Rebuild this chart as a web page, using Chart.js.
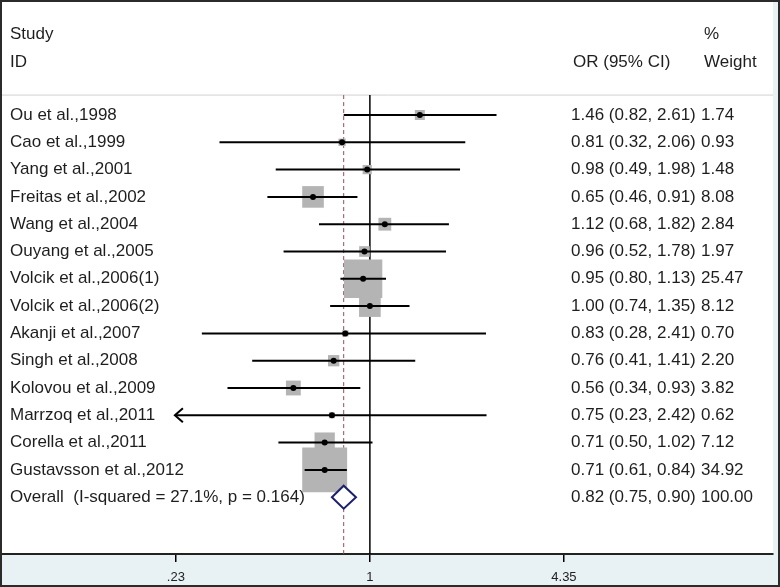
<!DOCTYPE html>
<html>
<head>
<meta charset="utf-8">
<script src="https://cdn.jsdelivr.net/npm/chart.js@4.4.0/dist/chart.umd.min.js"></script>
<style>
  html, body { margin: 0; padding: 0; background: #fff; }
  #wrap { width: 780px; height: 587px; }
</style>
</head>
<body>
<div id="wrap"><canvas id="forest" width="780" height="587"></canvas></div>
<script>
// study rows, top to bottom
const studies = [
  'Ou et al.,1998', 'Cao et al.,1999', 'Yang et al.,2001', 'Freitas et al.,2002',
  'Wang et al.,2004', 'Ouyang et al.,2005', 'Volcik et al.,2006(1)', 'Volcik et al.,2006(2)',
  'Akanji et al.,2007', 'Singh et al.,2008', 'Kolovou et al.,2009', 'Marrzoq et al.,2011',
  'Corella et al.,2011', 'Gustavsson et al.,2012'
];
const oddsRatios = [1.46, 0.81, 0.98, 0.65, 1.12, 0.96, 0.95, 1.00, 0.83, 0.76, 0.56, 0.75, 0.71, 0.71];
const ciLower = [0.82, 0.32, 0.49, 0.46, 0.68, 0.52, 0.80, 0.74, 0.28, 0.41, 0.34, 0.23, 0.50, 0.61];
const ciUpper = [2.61, 2.06, 1.98, 0.91, 1.82, 1.78, 1.13, 1.35, 2.41, 1.41, 0.93, 2.42, 1.02, 0.84];
const weights = [1.74, 0.93, 1.48, 8.08, 2.84, 1.97, 25.47, 8.12, 0.70, 2.20, 3.82, 0.62, 7.12, 34.92];

const overallLabel = 'Overall  (I-squared = 27.1%, p = 0.164)';
const overallOR = 0.82;
const overallLower = 0.75;
const overallUpper = 0.90;
const overallWeight = 100.00;

const xTickValues = [0.23, 1, 4.35];
const xTickLabels = ['.23', '1', '4.35'];

const TEXT_FONT = '17px "Liberation Sans", Arial, sans-serif';
const TEXT_COLOR = '#1e1e1e';
const overallRow = studies.length;
const headerRule = -0.73;

const fmt = v => v.toFixed(2);

const ciDatasets = studies.map((s, i) => ({
  label: s,
  type: 'scatter',
  showLine: true,
  data: [{ x: ciLower[i], y: i }, { x: ciUpper[i], y: i }],
  borderColor: '#000',
  borderWidth: 2,
  pointRadius: 0,
  order: 1
}));

const forestDecor = {
  id: 'forestDecor',
  beforeDraw(chart) {
    const { ctx, chartArea: a } = chart;
    ctx.save();
    ctx.fillStyle = '#e8f1f4';
    ctx.fillRect(0, 0, chart.width, chart.height);
    ctx.fillStyle = '#fff';
    ctx.fillRect(a.left, 2, a.right - a.left, a.bottom - 2);
    ctx.restore();
  },
  beforeDatasetsDraw(chart) {
    const { ctx, chartArea: a, scales: { x, y } } = chart;
    const top = y.getPixelForValue(headerRule);
    ctx.save();
    ctx.strokeStyle = '#d2d2d2';
    ctx.lineWidth = 1;
    ctx.beginPath();
    ctx.moveTo(a.left, top);
    ctx.lineTo(a.right, top);
    ctx.stroke();

    // line of no effect
    const x1 = x.getPixelForValue(1);
    ctx.strokeStyle = '#000';
    ctx.lineWidth = 1.5;
    ctx.beginPath();
    ctx.moveTo(x1, top);
    ctx.lineTo(x1, a.bottom);
    ctx.stroke();

    // pooled estimate
    const xo = x.getPixelForValue(overallOR);
    ctx.strokeStyle = '#9a4a58';
    ctx.lineWidth = 1;
    ctx.setLineDash([4, 3]);
    ctx.beginPath();
    ctx.moveTo(xo, top);
    ctx.lineTo(xo, a.bottom);
    ctx.stroke();
    ctx.restore();
  },
  afterDatasetsDraw(chart) {
    const { ctx, scales: { x, y } } = chart;
    ctx.save();

    // arrows where the CI runs past the axis range
    ctx.strokeStyle = '#000';
    ctx.lineWidth = 2;
    studies.forEach((s, i) => {
      if (ciLower[i] <= xTickValues[0]) {
        const px = x.getPixelForValue(ciLower[i]) - 1;
        const py = y.getPixelForValue(i);
        ctx.beginPath();
        ctx.moveTo(px + 8, py - 7);
        ctx.lineTo(px, py);
        ctx.lineTo(px + 8, py + 7);
        ctx.stroke();
      }
    });

    // overall diamond
    const yo = y.getPixelForValue(overallRow);
    const h = y.getPixelForValue(overallRow + 0.42) - yo;
    ctx.beginPath();
    ctx.moveTo(x.getPixelForValue(overallLower), yo);
    ctx.lineTo(x.getPixelForValue(overallOR), yo - h);
    ctx.lineTo(x.getPixelForValue(overallUpper), yo);
    ctx.lineTo(x.getPixelForValue(overallOR), yo + h);
    ctx.closePath();
    ctx.fillStyle = '#fff';
    ctx.fill();
    ctx.strokeStyle = '#1c1f6e';
    ctx.lineWidth = 2;
    ctx.stroke();

    // text columns
    ctx.font = TEXT_FONT;
    ctx.fillStyle = TEXT_COLOR;
    ctx.textBaseline = 'middle';
    ctx.textAlign = 'left';
    ctx.fillText('Study', 10, 34);
    ctx.fillText('ID', 10, 62);
    ctx.fillText('OR (95% CI)', 573, 62);
    ctx.fillText('%', 704, 34);
    ctx.fillText('Weight', 704, 62);

    studies.forEach((s, i) => {
      const py = y.getPixelForValue(i);
      ctx.fillText(s, 10, py);
      ctx.fillText(`${fmt(oddsRatios[i])} (${fmt(ciLower[i])}, ${fmt(ciUpper[i])})`, 571, py);
      ctx.fillText(fmt(weights[i]), 701, py);
    });
    ctx.fillText(overallLabel, 10, yo);
    ctx.fillText(`${fmt(overallOR)} (${fmt(overallLower)}, ${fmt(overallUpper)})`, 571, yo);
    ctx.fillText(fmt(overallWeight), 701, yo);
    ctx.restore();
  },
  afterDraw(chart) {
    const { ctx } = chart;
    ctx.save();
    ctx.strokeStyle = '#2b2b2b';
    ctx.lineWidth = 2;
    ctx.strokeRect(1, 1, chart.width - 2, chart.height - 2);
    ctx.restore();
  }
};

new Chart(document.getElementById('forest'), {
  type: 'scatter',
  data: {
    datasets: [
      {
        label: 'estimate',
        data: oddsRatios.map((v, i) => ({ x: v, y: i })),
        backgroundColor: '#000',
        borderWidth: 0,
        pointRadius: 3,
        order: 0
      },
      ...ciDatasets,
      {
        label: 'weight',
        data: oddsRatios.map((v, i) => ({ x: v, y: i })),
        pointStyle: 'rect',
        pointRadius: weights.map(w => 7.6 * Math.sqrt(w) / Math.SQRT2),
        backgroundColor: '#b4b4b4',
        borderWidth: 0,
        order: 2
      }
    ]
  },
  options: {
    responsive: false,
    animation: false,
    devicePixelRatio: 1,
    events: [],
    layout: { autoPadding: false, padding: { left: 2, right: 7, top: 0, bottom: 0 } },
    plugins: { legend: { display: false }, tooltip: { enabled: false } },
    scales: {
      x: {
        type: 'logarithmic',
        min: 0.0616,
        max: 21.2,
        afterBuildTicks(scale) {
          scale.ticks = xTickValues.map(v => ({ value: v }));
        },
        afterFit(scale) { scale.height = 33; },
        ticks: {
          autoSkip: false,
          maxRotation: 0,
          padding: 8,
          color: '#222',
          font: { family: '"Liberation Sans", Arial, sans-serif', size: 13 },
          callback: (v, i) => xTickLabels[i]
        },
        grid: { drawOnChartArea: false, drawTicks: true, tickLength: 8, color: '#000', lineWidth: 1.5 },
        border: { color: '#222', width: 2 }
      },
      y: {
        type: 'linear',
        display: false,
        reverse: true,
        min: -4.212,
        max: 16.08
      }
    }
  },
  plugins: [forestDecor]
});
</script>
</body>
</html>
